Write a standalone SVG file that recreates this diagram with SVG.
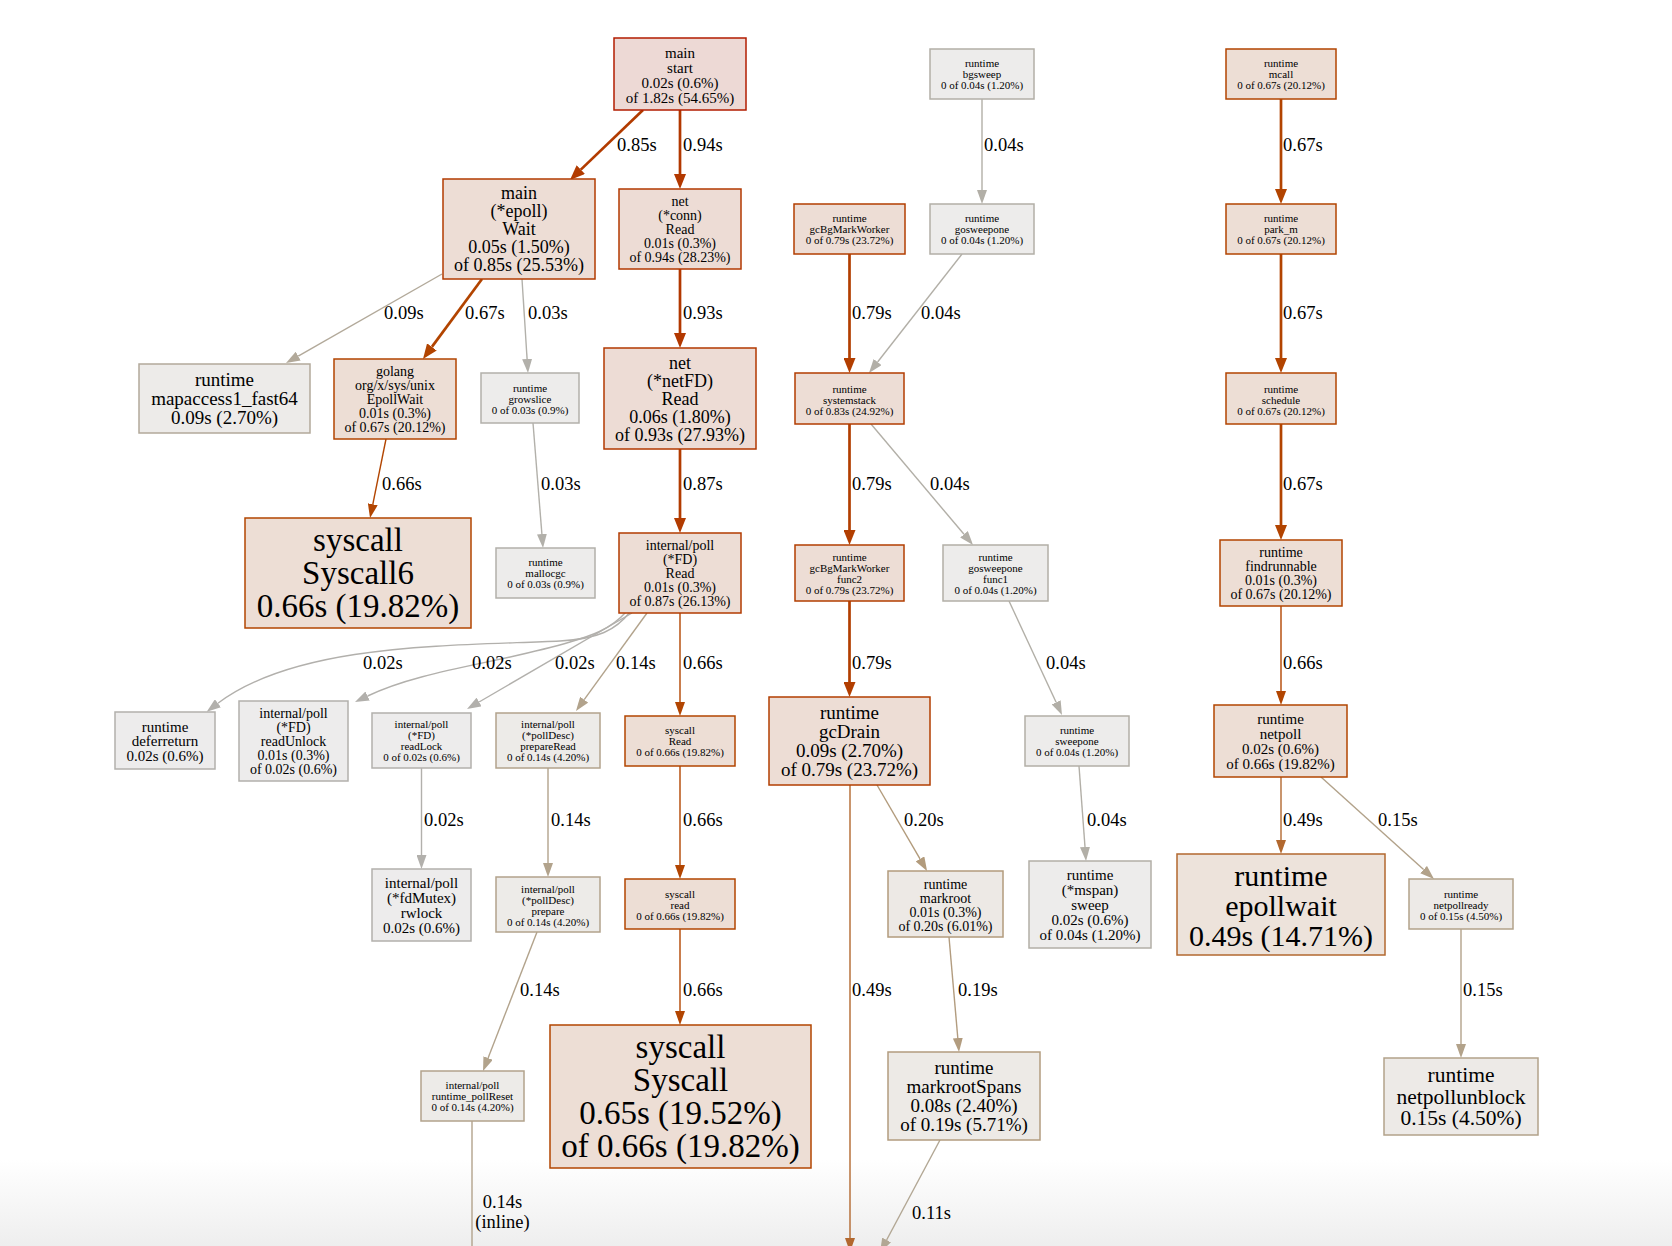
<svg xmlns="http://www.w3.org/2000/svg" width="1672" height="1246" viewBox="0 0 1672 1246">
<style>
text{font-family:"Liberation Serif","Times New Roman",serif;fill:#000;dominant-baseline:central}
.n text{text-anchor:middle}
.n rect{stroke-width:1.5}
.l text{font-size:18.5px}
.e path{fill:none}
.f11{font-size:11px}.f14{font-size:14px}.f15{font-size:15px}.f18{font-size:18px}.f19{font-size:19px}.f21{font-size:21.5px}.f30{font-size:30px}.f33{font-size:33px}
.k1d{fill:#edd9d5;stroke:#b21d00}.k38{fill:#eddcd5;stroke:#b23800}.k3b{fill:#edddd5;stroke:#b23b00}.k3c{fill:#edddd5;stroke:#b23c00}.k3e{fill:#edddd5;stroke:#b23e00}
.k44{fill:#edded5;stroke:#b24400}.k45{fill:#edded5;stroke:#b24501}.k68{fill:#ede3db;stroke:#b2682f}
.ka7{fill:#edeceb;stroke:#b2afa7}.ka9{fill:#edebe9;stroke:#b2a99a}.kaa{fill:#edeceb;stroke:#b2b0aa}.kac{fill:#edecec;stroke:#b2b0ac}
.k8c{fill:#edebe8;stroke:#b2a38c}.k7c{fill:#ede9e5;stroke:#b29b7c}.k7f{fill:#edeae6;stroke:#b29c7f}.k8a{fill:#edeae7;stroke:#b2a28a}
.t38{stroke:#b23800;stroke-width:2.7;marker-end:url(#m38)}.t3b{stroke:#b23b00;stroke-width:2.7;marker-end:url(#m3b)}
.t3e{stroke:#b23e00;stroke-width:2.7;marker-end:url(#m3e)}.t44{stroke:#b24400;stroke-width:2.7;marker-end:url(#m44)}
.h45{stroke:#b24501;stroke-width:1.4;marker-end:url(#m45)}.h68{stroke:#b2682f;stroke-width:1.4;marker-end:url(#m68)}
.ha7{stroke:#b2afa7;stroke-width:1.4;marker-end:url(#ma7)}.ha9{stroke:#b2a99a;stroke-width:1.4;marker-end:url(#ma9)}
.haa{stroke:#b2b0aa;stroke-width:1.4;marker-end:url(#maa)}.hac{stroke:#b2b0ac;stroke-width:1.4;marker-end:url(#mac)}
.h8c{stroke:#b2a38c;stroke-width:1.4;marker-end:url(#m8c)}.h7c{stroke:#b29b7c;stroke-width:1.4;marker-end:url(#m7c)}
.h7f{stroke:#b29c7f;stroke-width:1.4;marker-end:url(#m7f)}.h8a{stroke:#b2a28a;stroke-width:1.4;marker-end:url(#m8a)}
.h94{stroke:#b2a794;stroke-width:1.4;marker-end:url(#m94)}.i8c{stroke:#b2a38c;stroke-width:1.4}
</style>
<defs>
<linearGradient id="bg" x1="0" y1="0" x2="0" y2="1"><stop offset="0" stop-color="#ffffff"/><stop offset="1" stop-color="#eeeeee"/></linearGradient>
<marker id="m38" viewBox="0 0 15 12" refX="0" refY="6" markerWidth="15" markerHeight="12" markerUnits="userSpaceOnUse" orient="auto"><path d="M0,0L15,6L0,12z" fill="#b23800"/></marker>
<marker id="m3b" viewBox="0 0 15 12" refX="0" refY="6" markerWidth="15" markerHeight="12" markerUnits="userSpaceOnUse" orient="auto"><path d="M0,0L15,6L0,12z" fill="#b23b00"/></marker>
<marker id="m3e" viewBox="0 0 15 12" refX="0" refY="6" markerWidth="15" markerHeight="12" markerUnits="userSpaceOnUse" orient="auto"><path d="M0,0L15,6L0,12z" fill="#b23e00"/></marker>
<marker id="m44" viewBox="0 0 15 12" refX="0" refY="6" markerWidth="15" markerHeight="12" markerUnits="userSpaceOnUse" orient="auto"><path d="M0,0L15,6L0,12z" fill="#b24400"/></marker>
<marker id="m45" viewBox="0 0 14 10" refX="0" refY="5" markerWidth="14" markerHeight="10" markerUnits="userSpaceOnUse" orient="auto"><path d="M0,0L14,5L0,10z" fill="#b24501"/></marker>
<marker id="m68" viewBox="0 0 14 10" refX="0" refY="5" markerWidth="14" markerHeight="10" markerUnits="userSpaceOnUse" orient="auto"><path d="M0,0L14,5L0,10z" fill="#b2682f"/></marker>
<marker id="ma7" viewBox="0 0 14 10" refX="0" refY="5" markerWidth="14" markerHeight="10" markerUnits="userSpaceOnUse" orient="auto"><path d="M0,0L14,5L0,10z" fill="#b2afa7"/></marker>
<marker id="ma9" viewBox="0 0 14 10" refX="0" refY="5" markerWidth="14" markerHeight="10" markerUnits="userSpaceOnUse" orient="auto"><path d="M0,0L14,5L0,10z" fill="#b2a99a"/></marker>
<marker id="maa" viewBox="0 0 14 10" refX="0" refY="5" markerWidth="14" markerHeight="10" markerUnits="userSpaceOnUse" orient="auto"><path d="M0,0L14,5L0,10z" fill="#b2b0aa"/></marker>
<marker id="mac" viewBox="0 0 14 10" refX="0" refY="5" markerWidth="14" markerHeight="10" markerUnits="userSpaceOnUse" orient="auto"><path d="M0,0L14,5L0,10z" fill="#b2b0ac"/></marker>
<marker id="m8c" viewBox="0 0 14 10" refX="0" refY="5" markerWidth="14" markerHeight="10" markerUnits="userSpaceOnUse" orient="auto"><path d="M0,0L14,5L0,10z" fill="#b2a38c"/></marker>
<marker id="m7c" viewBox="0 0 14 10" refX="0" refY="5" markerWidth="14" markerHeight="10" markerUnits="userSpaceOnUse" orient="auto"><path d="M0,0L14,5L0,10z" fill="#b29b7c"/></marker>
<marker id="m7f" viewBox="0 0 14 10" refX="0" refY="5" markerWidth="14" markerHeight="10" markerUnits="userSpaceOnUse" orient="auto"><path d="M0,0L14,5L0,10z" fill="#b29c7f"/></marker>
<marker id="m8a" viewBox="0 0 14 10" refX="0" refY="5" markerWidth="14" markerHeight="10" markerUnits="userSpaceOnUse" orient="auto"><path d="M0,0L14,5L0,10z" fill="#b2a28a"/></marker>
<marker id="m94" viewBox="0 0 14 10" refX="0" refY="5" markerWidth="14" markerHeight="10" markerUnits="userSpaceOnUse" orient="auto"><path d="M0,0L14,5L0,10z" fill="#b2a794"/></marker>
</defs>
<rect x="0" y="0" width="1672" height="1246" fill="#ffffff"/>
<rect x="0" y="1160" width="1672" height="86" fill="url(#bg)"/>

<g id="connectors" class="e">
<path class="t3b" d="M643,110L580.8,169.6"/>
<path class="t38" d="M680,110L680,174"/>
<path class="ha9" d="M442,274L298.2,356.1"/>
<path class="t44" d="M482,279L431.9,346.9"/>
<path class="haa" d="M522,279L527.1,359"/>
<path class="t38" d="M680,269L680,333"/>
<path class="ha7" d="M982,99L982,190"/>
<path class="t44" d="M1281,99L1281,189"/>
<path class="t3e" d="M849.5,254L849.5,358"/>
<path class="ha7" d="M962,254L877.6,362"/>
<path class="t44" d="M1281,254L1281,358"/>
<path class="h45" d="M386,439L372.8,504.3"/>
<path class="haa" d="M533,423L541.9,534"/>
<path class="t3b" d="M680,449L680,518"/>
<path class="t3e" d="M849.5,424L849.5,530"/>
<path class="ha7" d="M871,424L964,534.3"/>
<path class="t44" d="M1281,424L1281,525"/>
<path class="hac" d="M630,612C616,630 598,639 560,641C450,646 298,643 217.9,703.3"/>
<path class="hac" d="M626,612C610,630 590,636 570,642C500,663 421.6,670 367.6,696"/>
<path class="hac" d="M632,613L479.1,702"/>
<path class="h8c" d="M647,613L584.2,699.7"/>
<path class="h45" d="M680,613L680,702"/>
<path class="t3e" d="M849.5,601L849.5,682"/>
<path class="ha7" d="M1009,601L1056.1,702.3"/>
<path class="h45" d="M1281,606L1281,691"/>
<path class="hac" d="M421.5,768L421.5,855"/>
<path class="h8c" d="M548,768L548,863"/>
<path class="h45" d="M680,766L680,865"/>
<path class="h7c" d="M877,785L920,858.9"/>
<path class="h68" d="M850,785L850,1238"/>
<path class="ha7" d="M1079,766L1085,847"/>
<path class="h68" d="M1281,777L1281,840"/>
<path class="h8a" d="M1321,777L1423.6,869.6"/>
<path class="h8c" d="M537,932L488.1,1058"/>
<path class="h45" d="M680,929L680,1011"/>
<path class="h7f" d="M949,937L957.8,1038"/>
<path class="h8a" d="M1461,929L1461,1044"/>
<path class="i8c" d="M472,1121L472,1246"/>
<path class="h94" d="M940,1140L886.6,1240"/>
<g class="l">
<text x="617" y="145">0.85s</text><text x="683" y="145">0.94s</text><text x="984" y="145">0.04s</text><text x="1283" y="145">0.67s</text>
<text x="384" y="313">0.09s</text><text x="465" y="313">0.67s</text><text x="528" y="313">0.03s</text><text x="683" y="313">0.93s</text><text x="852" y="313">0.79s</text><text x="921" y="313">0.04s</text><text x="1283" y="313">0.67s</text>
<text x="382" y="484">0.66s</text><text x="541" y="484">0.03s</text><text x="683" y="484">0.87s</text><text x="852" y="484">0.79s</text><text x="930" y="484">0.04s</text><text x="1283" y="484">0.67s</text>
<text x="363" y="663">0.02s</text><text x="472" y="663">0.02s</text><text x="555" y="663">0.02s</text><text x="616" y="663">0.14s</text><text x="683" y="663">0.66s</text><text x="852" y="663">0.79s</text><text x="1046" y="663">0.04s</text><text x="1283" y="663">0.66s</text>
<text x="424" y="820">0.02s</text><text x="551" y="820">0.14s</text><text x="683" y="820">0.66s</text><text x="904" y="820">0.20s</text><text x="1087" y="820">0.04s</text><text x="1283" y="820">0.49s</text><text x="1378" y="820">0.15s</text>
<text x="520" y="990">0.14s</text><text x="683" y="990">0.66s</text><text x="852" y="990">0.49s</text><text x="958" y="990">0.19s</text><text x="1463" y="990">0.15s</text>
<text x="502.5" y="1202" text-anchor="middle">0.14s</text><text x="502.5" y="1222" text-anchor="middle">(inline)</text><text x="912" y="1213">0.11s</text>
</g>
</g>

<g id="n_main_start" class="n"><rect class="k1d" x="614" y="38" width="132" height="72"/><g class="f15"><text x="680" y="52.5">main</text><text x="680" y="67.5">start</text><text x="680" y="82.5">0.02s (0.6%)</text><text x="680" y="97.5">of 1.82s (54.65%)</text></g></g>
<g id="n_epoll_wait" class="n"><rect class="k3b" x="443" y="179" width="152" height="100"/><g class="f18"><text x="519" y="193">main</text><text x="519" y="211">(*epoll)</text><text x="519" y="229">Wait</text><text x="519" y="247">0.05s (1.50%)</text><text x="519" y="265">of 0.85s (25.53%)</text></g></g>
<g id="n_conn_read" class="n"><rect class="k38" x="619" y="189" width="122" height="80"/><g class="f14"><text x="680" y="201">net</text><text x="680" y="215">(*conn)</text><text x="680" y="229">Read</text><text x="680" y="243">0.01s (0.3%)</text><text x="680" y="257">of 0.94s (28.23%)</text></g></g>
<g id="n_bgsweep" class="n"><rect class="ka7" x="930" y="49" width="104" height="50"/><g class="f11"><text x="982" y="63">runtime</text><text x="982" y="74">bgsweep</text><text x="982" y="85">0 of 0.04s (1.20%)</text></g></g>
<g id="n_mcall" class="n"><rect class="k44" x="1226" y="49" width="110" height="50"/><g class="f11"><text x="1281" y="63">runtime</text><text x="1281" y="74">mcall</text><text x="1281" y="85">0 of 0.67s (20.12%)</text></g></g>
<g id="n_gcbgmarkworker" class="n"><rect class="k3e" x="794" y="204" width="111" height="50"/><g class="f11"><text x="849.5" y="218">runtime</text><text x="849.5" y="229">gcBgMarkWorker</text><text x="849.5" y="240">0 of 0.79s (23.72%)</text></g></g>
<g id="n_gosweepone" class="n"><rect class="ka7" x="930" y="204" width="104" height="50"/><g class="f11"><text x="982" y="218">runtime</text><text x="982" y="229">gosweepone</text><text x="982" y="240">0 of 0.04s (1.20%)</text></g></g>
<g id="n_park_m" class="n"><rect class="k44" x="1226" y="204" width="110" height="50"/><g class="f11"><text x="1281" y="218">runtime</text><text x="1281" y="229">park_m</text><text x="1281" y="240">0 of 0.67s (20.12%)</text></g></g>
<g id="n_mapaccess" class="n"><rect class="ka9" x="139" y="364" width="171" height="69"/><g class="f19"><text x="224.5" y="379.5">runtime</text><text x="224.5" y="398.5">mapaccess1_fast64</text><text x="224.5" y="417.5">0.09s (2.70%)</text></g></g>
<g id="n_epollwait_unix" class="n"><rect class="k44" x="334" y="359" width="122" height="80"/><g class="f14"><text x="395" y="371">golang</text><text x="395" y="385">org/x/sys/unix</text><text x="395" y="399">EpollWait</text><text x="395" y="413">0.01s (0.3%)</text><text x="395" y="427">of 0.67s (20.12%)</text></g></g>
<g id="n_growslice" class="n"><rect class="kaa" x="481" y="373" width="98" height="50"/><g class="f11"><text x="530" y="388">runtime</text><text x="530" y="399">growslice</text><text x="530" y="410">0 of 0.03s (0.9%)</text></g></g>
<g id="n_netfd_read" class="n"><rect class="k38" x="604" y="348" width="152" height="101"/><g class="f18"><text x="680" y="362.5">net</text><text x="680" y="380.5">(*netFD)</text><text x="680" y="398.5">Read</text><text x="680" y="416.5">0.06s (1.80%)</text><text x="680" y="434.5">of 0.93s (27.93%)</text></g></g>
<g id="n_systemstack" class="n"><rect class="k3c" x="795" y="373" width="109" height="51"/><g class="f11"><text x="849.5" y="388.5">runtime</text><text x="849.5" y="399.5">systemstack</text><text x="849.5" y="410.5">0 of 0.83s (24.92%)</text></g></g>
<g id="n_schedule" class="n"><rect class="k44" x="1226" y="373" width="110" height="51"/><g class="f11"><text x="1281" y="388.5">runtime</text><text x="1281" y="399.5">schedule</text><text x="1281" y="410.5">0 of 0.67s (20.12%)</text></g></g>
<g id="n_syscall6" class="n"><rect class="k45" x="245" y="518" width="226" height="110"/><g class="f33"><text x="358" y="540">syscall</text><text x="358" y="573">Syscall6</text><text x="358" y="606">0.66s (19.82%)</text></g></g>
<g id="n_mallocgc" class="n"><rect class="kaa" x="496" y="548" width="99" height="50"/><g class="f11"><text x="545.5" y="562">runtime</text><text x="545.5" y="573">mallocgc</text><text x="545.5" y="584">0 of 0.03s (0.9%)</text></g></g>
<g id="n_fd_read" class="n"><rect class="k3b" x="619" y="533" width="122" height="80"/><g class="f14"><text x="680" y="545">internal/poll</text><text x="680" y="559">(*FD)</text><text x="680" y="573">Read</text><text x="680" y="587">0.01s (0.3%)</text><text x="680" y="601">of 0.87s (26.13%)</text></g></g>
<g id="n_gcbgmarkworker_func2" class="n"><rect class="k3e" x="795" y="545" width="109" height="56"/><g class="f11"><text x="849.5" y="556.5">runtime</text><text x="849.5" y="567.5">gcBgMarkWorker</text><text x="849.5" y="578.5">func2</text><text x="849.5" y="589.5">0 of 0.79s (23.72%)</text></g></g>
<g id="n_gosweepone_func1" class="n"><rect class="ka7" x="943" y="545" width="105" height="56"/><g class="f11"><text x="995.5" y="556.5">runtime</text><text x="995.5" y="567.5">gosweepone</text><text x="995.5" y="578.5">func1</text><text x="995.5" y="589.5">0 of 0.04s (1.20%)</text></g></g>
<g id="n_findrunnable" class="n"><rect class="k44" x="1220" y="540" width="122" height="66"/><g class="f14"><text x="1281" y="552">runtime</text><text x="1281" y="566">findrunnable</text><text x="1281" y="580">0.01s (0.3%)</text><text x="1281" y="594">of 0.67s (20.12%)</text></g></g>
<g id="n_deferreturn" class="n"><rect class="kac" x="115" y="712" width="100" height="57"/><g class="f15"><text x="165" y="726.5">runtime</text><text x="165" y="741">deferreturn</text><text x="165" y="755.5">0.02s (0.6%)</text></g></g>
<g id="n_readunlock" class="n"><rect class="kac" x="239" y="701" width="109" height="80"/><g class="f14"><text x="293.5" y="713">internal/poll</text><text x="293.5" y="727">(*FD)</text><text x="293.5" y="741">readUnlock</text><text x="293.5" y="755">0.01s (0.3%)</text><text x="293.5" y="769">of 0.02s (0.6%)</text></g></g>
<g id="n_readlock" class="n"><rect class="kac" x="372" y="713" width="99" height="55"/><g class="f11"><text x="421.5" y="724">internal/poll</text><text x="421.5" y="735">(*FD)</text><text x="421.5" y="746">readLock</text><text x="421.5" y="757">0 of 0.02s (0.6%)</text></g></g>
<g id="n_prepareread" class="n"><rect class="k8c" x="496" y="713" width="104" height="55"/><g class="f11"><text x="548" y="724">internal/poll</text><text x="548" y="735">(*pollDesc)</text><text x="548" y="746">prepareRead</text><text x="548" y="757">0 of 0.14s (4.20%)</text></g></g>
<g id="n_syscall_read" class="n"><rect class="k45" x="625" y="716" width="110" height="50"/><g class="f11"><text x="680" y="730">syscall</text><text x="680" y="741">Read</text><text x="680" y="752">0 of 0.66s (19.82%)</text></g></g>
<g id="n_gcdrain" class="n"><rect class="k3e" x="769" y="697" width="161" height="88"/><g class="f19"><text x="849.5" y="712.5">runtime</text><text x="849.5" y="731.5">gcDrain</text><text x="849.5" y="750.5">0.09s (2.70%)</text><text x="849.5" y="769.5">of 0.79s (23.72%)</text></g></g>
<g id="n_sweepone" class="n"><rect class="ka7" x="1025" y="716" width="104" height="50"/><g class="f11"><text x="1077" y="730">runtime</text><text x="1077" y="741">sweepone</text><text x="1077" y="752">0 of 0.04s (1.20%)</text></g></g>
<g id="n_netpoll" class="n"><rect class="k45" x="1214" y="705" width="133" height="72"/><g class="f15"><text x="1280.5" y="718.5">runtime</text><text x="1280.5" y="733.5">netpoll</text><text x="1280.5" y="748.5">0.02s (0.6%)</text><text x="1280.5" y="763.5">of 0.66s (19.82%)</text></g></g>
<g id="n_rwlock" class="n"><rect class="kac" x="372" y="869" width="99" height="72"/><g class="f15"><text x="421.5" y="882.5">internal/poll</text><text x="421.5" y="897.5">(*fdMutex)</text><text x="421.5" y="912.5">rwlock</text><text x="421.5" y="927.5">0.02s (0.6%)</text></g></g>
<g id="n_prepare" class="n"><rect class="k8c" x="496" y="877" width="104" height="55"/><g class="f11"><text x="548" y="888.5">internal/poll</text><text x="548" y="899.5">(*pollDesc)</text><text x="548" y="910.5">prepare</text><text x="548" y="921.5">0 of 0.14s (4.20%)</text></g></g>
<g id="n_syscall_read_lc" class="n"><rect class="k45" x="625" y="879" width="110" height="50"/><g class="f11"><text x="680" y="894">syscall</text><text x="680" y="905">read</text><text x="680" y="916">0 of 0.66s (19.82%)</text></g></g>
<g id="n_markroot" class="n"><rect class="k7c" x="888" y="871" width="115" height="66"/><g class="f14"><text x="945.5" y="884.5">runtime</text><text x="945.5" y="898.5">markroot</text><text x="945.5" y="912.5">0.01s (0.3%)</text><text x="945.5" y="926.5">of 0.20s (6.01%)</text></g></g>
<g id="n_mspan_sweep" class="n"><rect class="ka7" x="1029" y="861" width="122" height="87"/><g class="f15"><text x="1090" y="874.5">runtime</text><text x="1090" y="889.5">(*mspan)</text><text x="1090" y="904.5">sweep</text><text x="1090" y="919.5">0.02s (0.6%)</text><text x="1090" y="934.5">of 0.04s (1.20%)</text></g></g>
<g id="n_epollwait_rt" class="n"><rect class="k68" x="1177" y="854" width="208" height="101"/><g class="f30"><text x="1281" y="875">runtime</text><text x="1281" y="905">epollwait</text><text x="1281" y="935">0.49s (14.71%)</text></g></g>
<g id="n_netpollready" class="n"><rect class="k8a" x="1409" y="879" width="104" height="50"/><g class="f11"><text x="1461" y="894">runtime</text><text x="1461" y="905">netpollready</text><text x="1461" y="916">0 of 0.15s (4.50%)</text></g></g>
<g id="n_pollreset" class="n"><rect class="k8c" x="421" y="1071" width="103" height="50"/><g class="f11"><text x="472.5" y="1085">internal/poll</text><text x="472.5" y="1096">runtime_pollReset</text><text x="472.5" y="1107">0 of 0.14s (4.20%)</text></g></g>
<g id="n_syscall" class="n"><rect class="k45" x="550" y="1025" width="261" height="143"/><g class="f33"><text x="680.5" y="1047">syscall</text><text x="680.5" y="1080">Syscall</text><text x="680.5" y="1113">0.65s (19.52%)</text><text x="680.5" y="1146">of 0.66s (19.82%)</text></g></g>
<g id="n_markrootspans" class="n"><rect class="k7f" x="888" y="1052" width="152" height="88"/><g class="f19"><text x="964" y="1067.5">runtime</text><text x="964" y="1086.5">markrootSpans</text><text x="964" y="1105.5">0.08s (2.40%)</text><text x="964" y="1124.5">of 0.19s (5.71%)</text></g></g>
<g id="n_netpollunblock" class="n"><rect class="k8a" x="1384" y="1058" width="154" height="77"/><g class="f21"><text x="1461" y="1075">runtime</text><text x="1461" y="1096.5">netpollunblock</text><text x="1461" y="1118">0.15s (4.50%)</text></g></g>
</svg>
